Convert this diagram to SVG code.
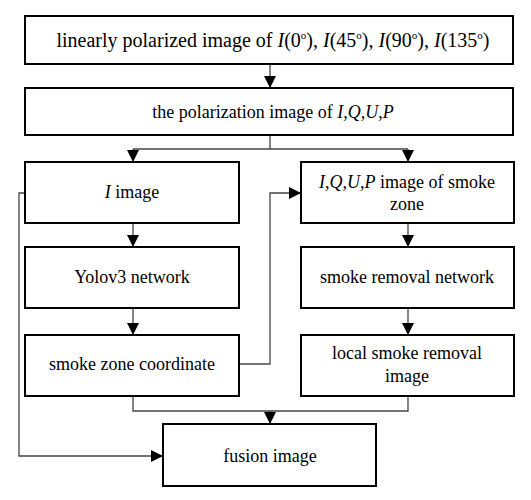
<svg xmlns="http://www.w3.org/2000/svg" width="531" height="500" viewBox="0 0 531 500">
<defs>
<marker id="ah" markerWidth="12" markerHeight="13" refX="12" refY="6" orient="auto" markerUnits="userSpaceOnUse">
<path d="M0,0 L12,6 L0,12 Z" fill="#000"/>
</marker>
<style>
.box{fill:#fff;stroke:#000;stroke-width:2}
.t{font-family:"Liberation Serif","Times New Roman",serif;font-size:18px;fill:#000;text-anchor:middle}
.big{font-size:20px}
.i{font-style:italic}
.c{fill:none;stroke:#444;stroke-width:1.3}
.s{font-size:11px}
</style>
</defs>
<rect width="531" height="500" fill="#fff"/>
<g id="connectors">
<path class="c" d="M270,64 V88" marker-end="url(#ah)"/>
<path class="c" d="M270,135 V149 M133,149 H408"/>
<path class="c" d="M133,149 V162" marker-end="url(#ah)"/>
<path class="c" d="M408,149 V162" marker-end="url(#ah)"/>
<path class="c" d="M133,223 V247" marker-end="url(#ah)"/>
<path class="c" d="M408,223 V247" marker-end="url(#ah)"/>
<path class="c" d="M133,308 V335" marker-end="url(#ah)"/>
<path class="c" d="M408,308 V335" marker-end="url(#ah)"/>
<path class="c" d="M239,364 H270 V193 H301" marker-end="url(#ah)"/>
<path class="c" d="M25,193 H19 V456 H163" marker-end="url(#ah)"/>
<path class="c" d="M133,396 V411 H408 V396"/>
<path class="c" d="M270,411 V424" marker-end="url(#ah)"/>
</g>
<g id="n1">
<rect class="box" x="25" y="16" width="488" height="48"/>
<text class="t big" x="273" y="47">linearly polarized image of <tspan class="i">I</tspan>(0<tspan class="s" dy="-8">o</tspan><tspan dy="8">),</tspan> <tspan class="i">I</tspan>(45<tspan class="s" dy="-8">o</tspan><tspan dy="8">),</tspan> <tspan class="i">I</tspan>(90<tspan class="s" dy="-8">o</tspan><tspan dy="8">),</tspan> <tspan class="i">I</tspan>(135<tspan class="s" dy="-8">o</tspan><tspan dy="8">)</tspan></text>
</g>
<g id="n2">
<rect class="box" x="25" y="88" width="488" height="47"/>
<text class="t" x="273" y="118">the polarization image of <tspan class="i">I,Q,U,P</tspan></text>
</g>
<g id="n3">
<rect class="box" x="25" y="162" width="214" height="61"/>
<text class="t" x="132" y="198"><tspan class="i">I</tspan> image</text>
</g>
<g id="n4">
<rect class="box" x="301" y="162" width="213" height="61"/>
<text class="t" x="407" y="188"><tspan class="i">I,Q,U,P</tspan>  image of smoke</text>
<text class="t" x="407" y="210">zone</text>
</g>
<g id="n5">
<rect class="box" x="25" y="247" width="214" height="61"/>
<text class="t" x="132" y="283">Yolov3 network</text>
</g>
<g id="n6">
<rect class="box" x="301" y="247" width="213" height="61"/>
<text class="t" x="407" y="283">smoke removal network</text>
</g>
<g id="n7">
<rect class="box" x="25" y="335" width="214" height="61"/>
<text class="t" x="132" y="370">smoke  zone coordinate</text>
</g>
<g id="n8">
<rect class="box" x="301" y="335" width="213" height="61"/>
<text class="t" x="407" y="359">local smoke removal</text>
<text class="t" x="407" y="382">image</text>
</g>
<g id="n9">
<rect class="box" x="163" y="424" width="213" height="62"/>
<text class="t" x="270" y="462">fusion image</text>
</g>
</svg>
